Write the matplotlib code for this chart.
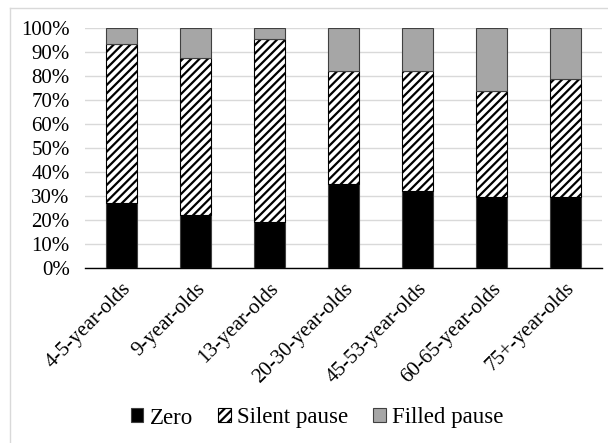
import numpy as np
import matplotlib
matplotlib.use("Agg")
import matplotlib.pyplot as plt
from matplotlib.lines import Line2D

plt.rcParams['font.family'] = ['Liberation Serif', 'DejaVu Serif']
plt.rcParams['hatch.linewidth'] = 1.6

groups = ['4-5-year-olds', '9-year-olds', '13-year-olds', '20-30-year-olds',
          '45-53-year-olds', '60-65-year-olds', '75+-year-olds']
zero = [27.0, 22.0, 19.3, 35.1, 32.2, 29.7, 29.7]
silent = [66.2, 65.4, 76.0, 47.1, 50.0, 44.2, 48.9]
filled = [100 - z - s for z, s in zip(zero, silent)]

W, H = 608, 443
fig = plt.figure(figsize=(W / 100, H / 100), dpi=100)
ax = fig.add_axes([85 / W, (H - 268) / H, 517 / W, 240 / H])

x = np.arange(len(groups))
w = 0.42
zero = np.array(zero)
silent = np.array(silent)
filled = np.array(filled)

ax.bar(x, zero, w, color='black', edgecolor='#404040', linewidth=0.8,
       label='Zero', zorder=3)
ax.bar(x, silent, w, bottom=zero, color='white', edgecolor='black',
       hatch='////', linewidth=0.8, label='Silent pause', zorder=3)
ax.bar(x, filled, w, bottom=zero + silent, color='#a6a6a6', edgecolor='#404040',
       linewidth=0.8, label='Filled pause', zorder=3)

ax.set_xlim(-0.5, len(groups) - 0.5)
ax.set_ylim(0, 100)
ax.set_yticks(np.arange(0, 101, 10))
ax.set_yticklabels([f'{v}%' for v in range(0, 101, 10)], fontsize=15)
ax.set_xticks(x)
ax.set_xticklabels(groups, rotation=45, ha='right', va='top',
                   rotation_mode='anchor', fontsize=15)
ax.tick_params(axis='y', length=0, pad=11)
ax.tick_params(axis='x', length=0, pad=8)
ax.yaxis.grid(True, color='#d9d9d9', linewidth=1, zorder=0)
ax.set_axisbelow(True)
for s in ['top', 'right', 'left']:
    ax.spines[s].set_visible(False)
ax.spines['bottom'].set_color('black')
ax.spines['bottom'].set_linewidth(1.0)

fig.legend(loc='center', bbox_to_anchor=(317 / W, (H - 418) / H), ncol=3,
           frameon=False, fontsize=16.5, handlelength=0.55, handleheight=0.55,
           handletextpad=0.27, columnspacing=1.1)

# chart area border (only left and top edges are inside the crop)
fig.add_artist(Line2D([9.5 / W, 9.5 / W], [0, (H - 8) / H], transform=fig.transFigure,
                      color='#d9d9d9', linewidth=1))
fig.add_artist(Line2D([9.5 / W, 1], [(H - 8) / H, (H - 8) / H], transform=fig.transFigure,
                      color='#d9d9d9', linewidth=1))

fig.savefig('out.png', dpi=100)
